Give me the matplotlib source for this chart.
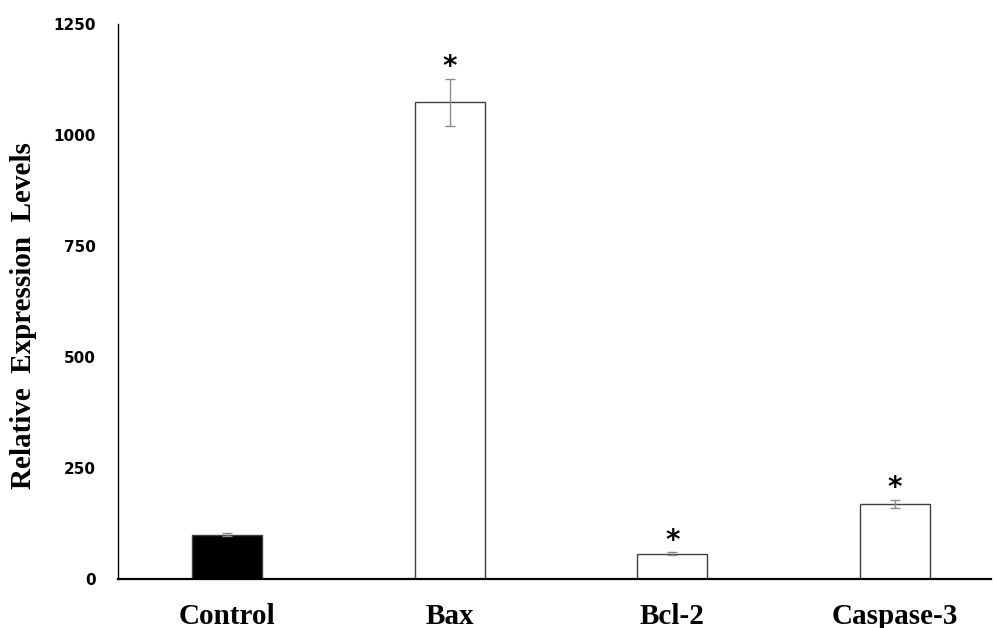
import numpy as np
import matplotlib.pyplot as plt

# data
categories = ['Control', 'Bax', 'Bcl-2', 'Caspase-3']
values = [100, 1073, 57, 169]
errors = [4, 53, 3, 9]
significant = [False, True, True, True]
fill_colors = ['#000000', '#ffffff', '#ffffff', '#ffffff']
y_ticks = [0, 250, 500, 750, 1000, 1250]

fig = plt.figure(figsize=(9.96, 6.28), dpi=100)
ax = fig.add_axes([0.1185, 0.078, 0.876, 0.884])

x = np.arange(len(categories))
ax.bar(x, values, width=0.315, color=fill_colors, edgecolor='#404040', linewidth=1.0,
       yerr=errors, error_kw=dict(ecolor='#8c8c8c', elinewidth=1.0, capsize=3.5, capthick=1.0))

for xi, v, e, sig in zip(x, values, errors, significant):
    if sig:
        ax.text(xi, v + e - 5, '*', ha='center', va='bottom', fontsize=20,
                fontweight='bold', family='DejaVu Sans')

ax.set_xlim(-0.49, 3.43)
ax.set_ylim(0, 1250)
ax.set_yticks(y_ticks)
ax.set_yticklabels([str(t) for t in y_ticks], fontsize=11, fontweight='bold',
                   family='DejaVu Sans')
ax.set_xticks(x)
ax.set_xticklabels(categories, fontsize=21, fontweight='bold', family='Liberation Serif')
ax.tick_params(axis='y', length=0, pad=16)
ax.tick_params(axis='x', length=0, pad=17)

ax.set_ylabel('Relative  Expression  Levels', fontsize=21, fontweight='bold',
              family='Liberation Serif')
ax.yaxis.set_label_coords(-0.093, 0.474)

for side in ['top', 'right']:
    ax.spines[side].set_visible(False)
ax.spines['left'].set_linewidth(1.0)
ax.spines['bottom'].set_linewidth(1.6)

fig.savefig('out.png', dpi=100)
